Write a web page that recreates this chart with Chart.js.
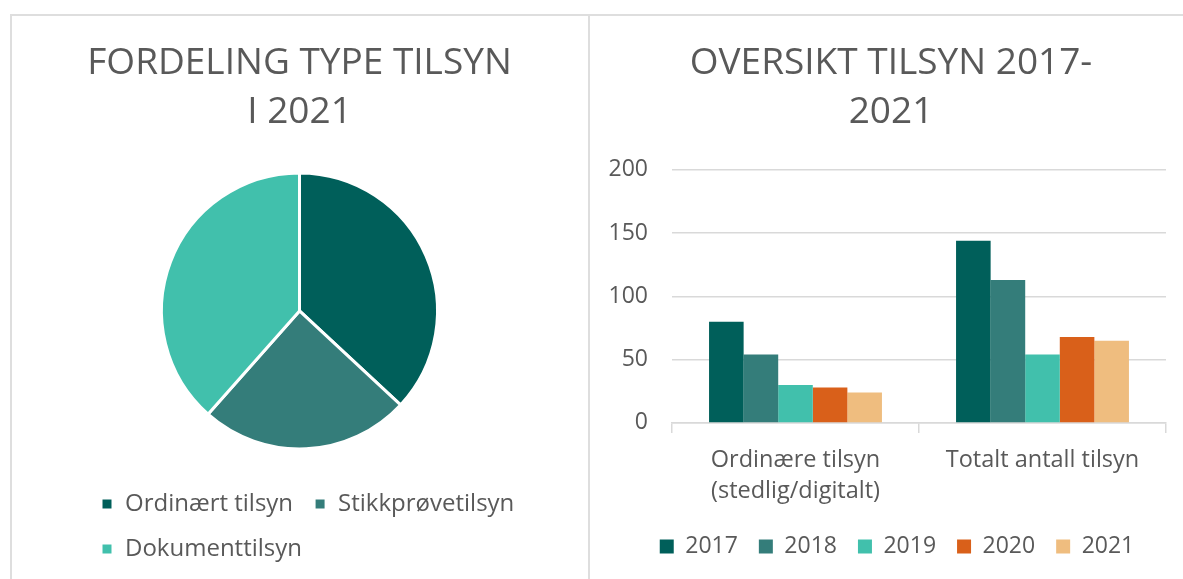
<!DOCTYPE html>
<html>
<head>
<meta charset="utf-8">
<script src="https://cdn.jsdelivr.net/npm/chart.js@4"></script>
<style>
  html, body { margin: 0; padding: 0; background: #fff; overflow: hidden; }
  .panel { position: absolute; top: 14px; height: 580px; border-top: 2px solid #dedede; box-sizing: border-box; }
  #leftPanel { left: 10px; width: 580px; border-left: 2px solid #dedede; border-right: 2px solid #dedede; }
  #rightPanel { left: 588px; width: 600px; }
  canvas { position: absolute; }
  #pieChart { left: 12px; top: 16px; }
  #barChart { left: 590px; top: 16px; }
</style>
</head>
<body>
<div class="panel" id="leftPanel"></div>
<div class="panel" id="rightPanel"></div>
<canvas id="pieChart" width="575" height="563"></canvas>
<canvas id="barChart" width="593" height="563"></canvas>
<script>
// pie: type tilsyn 2021
var pieLabels = ['Ordinært tilsyn', 'Stikkprøvetilsyn', 'Dokumenttilsyn'];
var pieValues = [24, 16, 25];
var pieColors = ['#005f5a', '#347d7a', '#41c0ac'];

// bars: oversikt 2017-2021
var barCategories = [['Ordinære tilsyn', '(stedlig/digitalt)'], 'Totalt antall tilsyn'];
var years = ['2017', '2018', '2019', '2020', '2021'];
var v2017 = [80, 144];
var v2018 = [54, 113];
var v2019 = [30, 54];
var v2020 = [28, 68];
var v2021 = [24, 65];
var yearColors = ['#005f5a', '#347d7a', '#41c0ac', '#d9601a', '#efbd7f'];

var textGrey = '#595959';
var gridGrey = '#d9d9d9';
Chart.defaults.font.family = "'Open Sans', sans-serif";
Chart.defaults.color = textGrey;

function moveBox(box, dx) {
    if (box) { box.left += dx; box.right += dx; }
}

// keep pie + title centred in the canvas even though the legend is left aligned
var centerArea = {
    id: 'centerArea',
    afterLayout: function (chart) {
        var a = chart.chartArea;
        moveBox(a, chart.width / 2 - (a.left + a.right) / 2);
        var t = chart.titleBlock;
        if (t) moveBox(t, chart.width / 2 - (t.left + t.right) / 2);
    }
};

// small horizontal nudge of title / legend in the bar chart
var nudgeBoxes = {
    id: 'nudgeBoxes',
    afterLayout: function (chart) {
        moveBox(chart.titleBlock, 4);
        moveBox(chart.legend, 10);
    }
};

var pieChart = new Chart(document.getElementById('pieChart').getContext('2d'), {
    type: 'pie',
    data: {
        labels: pieLabels,
        datasets: [{
            data: pieValues,
            backgroundColor: pieColors,
            borderColor: '#ffffff',
            borderWidth: 3,
            radius: 138
        }]
    },
    options: {
        responsive: false,
        animation: false,
        devicePixelRatio: 1,
        layout: { padding: { left: 68, right: 15, bottom: 8 } },
        plugins: {
            title: {
                display: true,
                text: ['FORDELING TYPE TILSYN', 'I 2021'],
                font: { size: 37, weight: 'normal', lineHeight: 1.35 },
                color: textGrey,
                padding: { top: 22, bottom: 13 }
            },
            legend: {
                position: 'bottom',
                align: 'start',
                labels: {
                    boxWidth: 12,
                    boxHeight: 12,
                    padding: 21,
                    font: { size: 24 },
                    color: textGrey
                }
            },
            tooltip: { enabled: false }
        }
    },
    plugins: [centerArea]
});

var barDatasets = [v2017, v2018, v2019, v2020, v2021].map(function (vals, i) {
    return {
        label: years[i],
        data: vals,
        backgroundColor: yearColors[i],
        categoryPercentage: 0.7,
        barPercentage: 1.0
    };
});

var barChart = new Chart(document.getElementById('barChart').getContext('2d'), {
    type: 'bar',
    data: { labels: barCategories, datasets: barDatasets },
    options: {
        responsive: false,
        animation: false,
        devicePixelRatio: 1,
        layout: { padding: { left: 18, right: 17, bottom: 11 } },
        scales: {
            x: {
                grid: { display: true, drawOnChartArea: false, drawTicks: true, tickLength: 10, color: gridGrey, lineWidth: 1.5 },
                border: { display: true, color: gridGrey, width: 1.5 },
                ticks: { font: { size: 23.5, lineHeight: 1.3 }, color: textGrey, padding: 12.5, maxRotation: 0 },
                afterFit: function (s) { s.height -= 5; }
            },
            y: {
                min: 0,
                max: 200,
                ticks: { stepSize: 50, font: { size: 23 }, color: textGrey, padding: 24 },
                grid: { color: gridGrey, lineWidth: 1.5, drawTicks: false },
                border: { display: false },
                afterFit: function (s) { s.width = 64; }
            }
        },
        plugins: {
            title: {
                display: true,
                text: ['OVERSIKT TILSYN 2017-', '2021'],
                font: { size: 37, weight: 'normal', lineHeight: 1.35 },
                color: textGrey,
                padding: { top: 22, bottom: 32 }
            },
            legend: {
                position: 'bottom',
                labels: {
                    boxWidth: 14,
                    boxHeight: 14,
                    padding: 21,
                    font: { size: 23 },
                    color: textGrey
                }
            },
            tooltip: { enabled: false }
        }
    },
    plugins: [nudgeBoxes]
});
</script>
</body>
</html>
